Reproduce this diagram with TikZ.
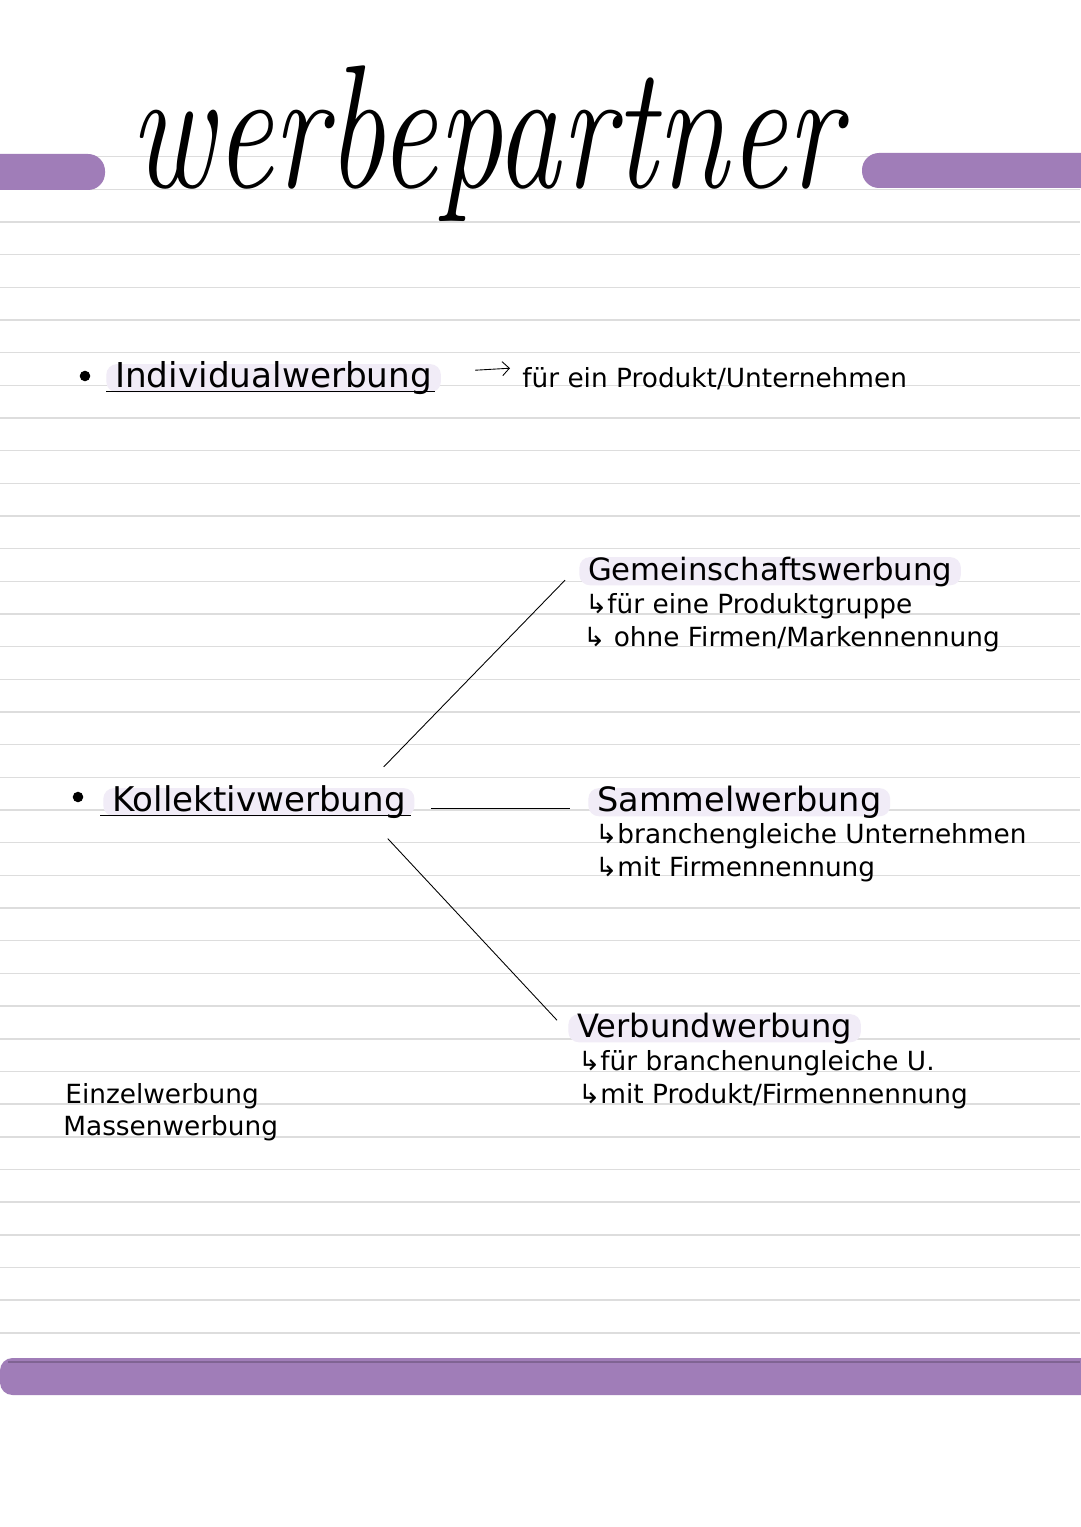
\documentclass[tikz,border=0pt]{standalone}
\usepackage{fontspec}
\newfontfamily\hand{DejaVu Sans}
\usetikzlibrary{calc, arrows.meta}
\definecolor{lila}{HTML}{A07DB8}
\definecolor{lilahell}{HTML}{F1ECF7}
\definecolor{linie}{HTML}{DDDDDD}
\tikzstyle{oberbegriff} = [anchor=base west, inner xsep=5pt, inner ysep=2pt, text height=11pt, text depth=1pt, fill=lilahell, rounded corners=6pt, font=\hand\fontsize{18}{21}\selectfont]
\tikzstyle{notiz} = [anchor=base west, inner sep=0pt, font=\hand\fontsize{15}{18}\selectfont]
\tikzstyle{balken} = [fill=lila, rounded corners=0.34cm]
\tikzstyle{punkt} = [fill, circle, inner sep=0pt, minimum size=6pt]
\tikzstyle{strich} = [line width=0.5pt]
\newcommand{\handgroesse}[1]{\hand\fontsize{#1}{21}\selectfont}

\begin{document}
\begin{tikzpicture}[x=0.02cm, y=-0.02cm]
  \useasboundingbox (0,0) rectangle (1080,1527);
  \fill[white] (0,0) rectangle (1080,1527);
  % Linien und Balken
  \foreach \i in {0,...,36}
    \draw[linie, line width=0.8pt] (0,{156.7+32.67*\i}) -- (1080,{156.7+32.67*\i});
  \fill[balken] (-40,154) rectangle (105,190);
  \fill[balken] (862,153) rectangle (1120,188);
  \fill[lila, rounded corners=0.25cm] (0,1358) rectangle (1120,1395);
  \draw[lila!80!black, line width=0.6pt] (8,1362) -- (1080,1362);

  \node[anchor=base, inner sep=0pt, font=\fontsize{74}{80}\selectfont\itshape] (titel) at (485,188) {\scalebox{1}[1.35]{werbepartner}};

  % Individualwerbung
  \node[punkt] (p1) at (85,376) {};
  \node[oberbegriff, font=\handgroesse{19.5}] (indiv) at (106,387) {Individualwerbung};
  \node[notiz] (produkt) at (522,387) {für ein Produkt/Unternehmen};
  \draw[strich] (indiv.base west) ++(0,4) -- ($(indiv.base east)+(-6,4)$);
  \draw[strich, -{Straight Barb[length=4pt]}] ($(indiv.east)+(34,-8)$) -- ($(produkt.west)+(-12,-10)$);

  % Kollektivwerbung
  \node[punkt] (p2) at (78,797) {};
  \node[oberbegriff, font=\handgroesse{19.4}] (kollektiv) at (103,811) {Kollektivwerbung};
  \draw[strich] (kollektiv.base west) ++(-3,4) -- ($(kollektiv.base east)+(-4,4)$);

  \node[oberbegriff, font=\handgroesse{17.5}] (gemein) at (579,580) {Gemeinschaftswerbung};
  \node[notiz] (gemein1) at (585,613) {↳für eine Produktgruppe};
  \node[notiz] (gemein2) at (583,646) {↳ ohne Firmen/Markennennung};

  \node[oberbegriff, font=\handgroesse{19.1}] (sammel) at (588,811) {Sammelwerbung};
  \node[notiz] (sammel1) at (595,843) {↳branchengleiche Unternehmen};
  \node[notiz] (sammel2) at (595,876) {↳mit Firmennennung};

  \node[oberbegriff, font=\handgroesse{18.3}] (verbund) at (568,1037) {Verbundwerbung};
  \node[notiz] (verbund1) at (578,1070) {↳für branchenungleiche U.};
  \node[notiz] (verbund2) at (578,1103) {↳mit Produkt/Firmennennung};

  \node[notiz] (einzel) at (65,1103) {Einzelwerbung};
  \node[notiz] (masse) at (63,1135) {Massenwerbung};

  \draw[strich] ($(kollektiv.north east)+(-31,-21)$) -- ($(gemein.west)+(-14,9)$);
  \draw[strich] ($(kollektiv.east)+(16,6)$) -- ($(kollektiv.east -| sammel.west)+(-18,6)$);
  \draw[strich] ($(kollektiv.south east)+(-27,22)$) -- ($(verbund.west)+(-11,-8)$);
\end{tikzpicture}
\end{document}
